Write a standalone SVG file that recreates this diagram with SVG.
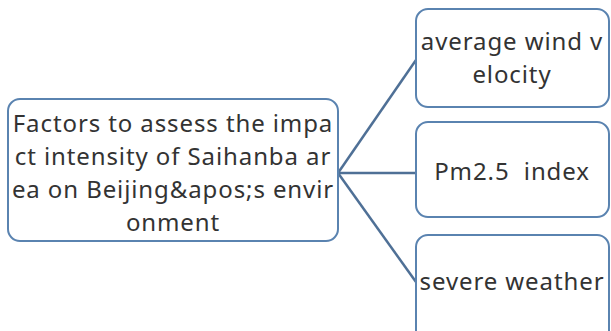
<svg xmlns="http://www.w3.org/2000/svg" width="611" height="331" viewBox="0 0 611 331">
<style>
.box{fill:#fff;stroke:#5a83b0;stroke-width:2}
.t{font-family:"Noto Sans","Open Sans",sans-serif;font-size:24px;letter-spacing:0.9px;fill:#333;text-anchor:middle}
.c{stroke:#4f7096;stroke-width:2.5;fill:none}
</style>
<rect width="611" height="331" fill="#fff"/>
<g id="connectors">
<path class="c" d="M338 173 L416 60"/>
<path class="c" d="M338 173 L416 173"/>
<path class="c" d="M338 173 L416 282"/>
</g>
<g id="root">
<rect class="box" x="8" y="99" width="330" height="142" rx="12"/>
<text class="t" x="173" y="132">Factors to assess the impa</text>
<text class="t" x="173" y="165">ct intensity of Saihanba ar</text>
<text class="t" x="173" y="198">ea on Beijing&amp;apos;s envir</text>
<text class="t" x="173" y="231">onment</text>
</g>
<g id="n1">
<rect class="box" x="416" y="9" width="193" height="98" rx="12"/>
<text class="t" x="512" y="50">average wind v</text>
<text class="t" x="512" y="83">elocity</text>
</g>
<g id="n2">
<rect class="box" x="416" y="122" width="193" height="95" rx="12"/>
<text class="t" x="512" y="180" xml:space="preserve">Pm2.5  index</text>
</g>
<g id="n3">
<rect class="box" x="416" y="235" width="193" height="110" rx="12"/>
<text class="t" x="512" y="290">severe weather</text>
</g>
</svg>
